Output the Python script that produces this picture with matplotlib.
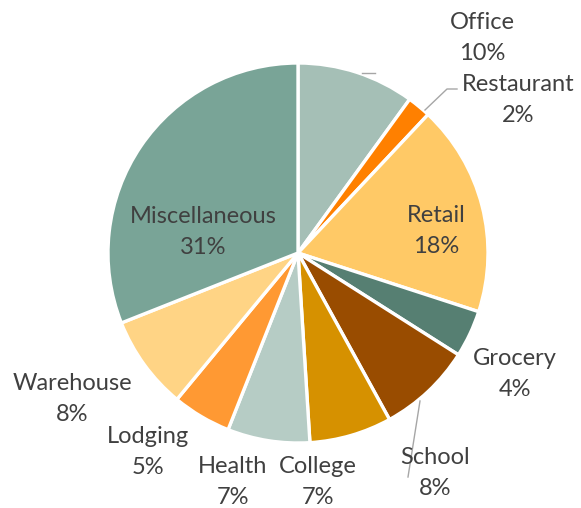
import matplotlib.pyplot as plt

categories = ["Office", "Restaurant", "Retail", "Grocery", "School", "College",
              "Health", "Lodging", "Warehouse", "Miscellaneous"]
shares = [10, 2, 18, 4, 8, 7, 7, 5, 8, 31]
colors = ["#a5bfb6", "#ff8000", "#ffc966", "#567f72", "#994c00", "#d69100",
          "#b6ccc5", "#ff9933", "#ffd485", "#79a497"]

# label anchor points in pixel space (x, y from top)
label_pos = {
    "Office": (482, 38),
    "Restaurant": (518, 100),
    "Retail": (436, 231),
    "Grocery": (515, 374),
    "School": (435, 473),
    "College": (318, 482),
    "Health": (233, 482),
    "Lodging": (148, 452),
    "Warehouse": (72, 399),
    "Miscellaneous": (203, 232),
}

W, H = 581, 508
plt.rcParams["font.family"] = ["Lato", "DejaVu Sans"]
fig = plt.figure(figsize=(W / 100, H / 100), dpi=100)
ax = fig.add_axes([0, 0, 1, 1])

cx, cy, r = 298, H - 253, 190
ax.pie(shares, colors=colors, startangle=90, counterclock=False,
       center=(cx, cy), radius=r, frame=True,
       wedgeprops=dict(edgecolor="white", linewidth=2.4))
ax.set_xlim(0, W)
ax.set_ylim(0, H)
ax.set_aspect("equal")
ax.axis("off")

for name, val in zip(categories, shares):
    x, y = label_pos[name]
    ax.text(x, H - y, f"{name}\n{val}%", ha="center", va="center",
            fontsize=17, color="#404040", linespacing=1.55)

# leader lines
lc = "#a6a6a6"
ax.plot([362, 375], [H - 73, H - 73], color=lc, lw=1)
ax.plot([425, 447, 457], [H - 110, H - 89, H - 89], color=lc, lw=1)
ax.plot([420, 408], [H - 401, H - 477], color=lc, lw=1)

fig.savefig("out.png", dpi=100)
